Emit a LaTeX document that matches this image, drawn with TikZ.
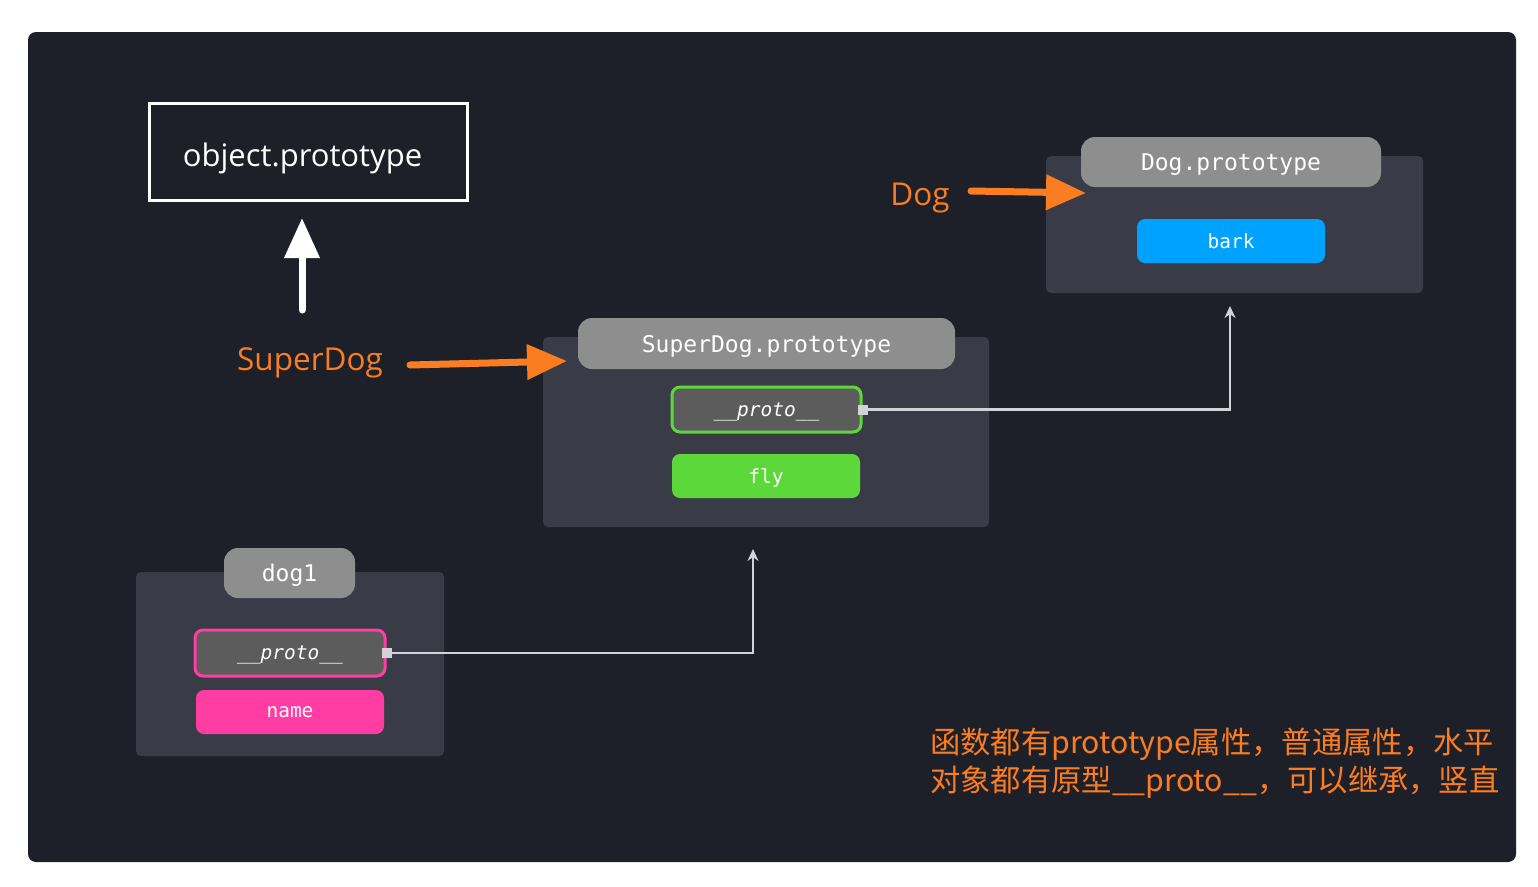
\documentclass[tikz,border=0pt]{standalone}
\usepackage{fontspec}
\setmainfont{Open Sans}
\newfontfamily\monofont{DejaVu Sans Mono}
\newfontfamily\cjk{Noto Sans CJK SC}
\usetikzlibrary{arrows.meta}
\definecolor{bgdark}{HTML}{1E2029}
\definecolor{panelgray}{HTML}{393C47}
\definecolor{headgray}{HTML}{8E8E8E}
\definecolor{protogray}{HTML}{5C5C5C}
\definecolor{jsorange}{HTML}{FA7D22}
\definecolor{barkblue}{HTML}{00A2FF}
\definecolor{flygreen}{HTML}{5CD83A}
\definecolor{namepink}{HTML}{FF3DA2}
\definecolor{linegray}{HTML}{D2D2D8}
\tikzset{
	panel/.style={fill=panelgray, rounded corners=5pt, inner sep=0pt},
	header/.style={fill=headgray, rounded corners=14pt, text=white, inner sep=0pt, text depth=0pt, minimum height=50pt, font=\monofont\fontsize{23}{27}\selectfont},
	field/.style={rounded corners=8pt, text=white, inner sep=0pt, text depth=0pt, minimum width=188pt, minimum height=44pt, font=\monofont\fontsize{19.5}{23}\selectfont},
	protofield/.style={field, fill=protogray, line width=3pt, minimum height=45pt, font=\monofont\itshape\fontsize{19.5}{23}\selectfont},
	fatarrow/.style={line width=7pt, line cap=round, -{Triangle[width=34pt,length=40pt]}},
	conn/.style={draw=linegray, line width=2.5pt, -{Stealth[width=11pt,length=12pt]}},
	portsq/.style={fill=linegray, minimum size=10pt, inner sep=0pt},
	orangetext/.style={text=jsorange, inner sep=0pt, text depth=0pt, font=\fontsize{31.5}{36}\selectfont}
}
\begin{document}
\begin{tikzpicture}[x=1pt, y=-1pt]
	\useasboundingbox (0,0) rectangle (1538,886);
	\fill[white] (0,0) rectangle (1538,886);
	\fill[bgdark, rounded corners=8pt] (28,32) rectangle (1516,862);

	% object.prototype
	\node[draw=white, line width=3pt, minimum width=318pt, minimum height=97pt] (objproto) at (308,152) {};
	\node[text=white, inner sep=0pt, text depth=0pt, font=\fontsize{31}{36}\selectfont] (objtext) at (302.5,155) {object.prototype};
	\coordinate (objtail) at (302,310);
	\coordinate (objtip) at (302,218);
	\draw[fatarrow, white] (objtail) -- (objtip);

	% Dog.prototype
	\node[panel, minimum width=377pt, minimum height=137pt] (dogbox) at (1234.5,224.5) {};
	\node[header, minimum width=300pt] (doghead) at (1231,162) {Dog.prototype};
	\node[field, fill=barkblue] (bark) at (1231,241) {bark};

	% SuperDog.prototype
	\node[panel, minimum width=446pt, minimum height=190pt] (sdbox) at (766,432) {};
	\node[header, minimum width=377pt, minimum height=51pt] (sdhead) at (766.5,343.5) {SuperDog.prototype};
	\node[protofield, draw=flygreen, minimum width=189pt] (sdproto) at (766.5,409.5) {\_\_proto\_\_};
	\node[field, fill=flygreen] (fly) at (766,476) {fly};

	% dog1
	\node[panel, minimum width=308pt, minimum height=184pt] (dogonebox) at (290,664) {};
	\node[header, minimum width=131pt] (dogonehead) at (289.5,573) {dog1};
	\node[protofield, draw=namepink, minimum width=190pt, minimum height=46pt] (dproto) at (290,653) {\_\_proto\_\_};
	\node[field, fill=namepink] (name) at (290,712) {name};

	% orange labels
	\node[orangetext] (sdlabel) at (310,359) {SuperDog};
	\node[orangetext] (doglabel) at (920,194) {Dog};
	\coordinate (sdtail) at (410,365);
	\coordinate (sdtip) at (567,361);
	\coordinate (dogtail) at (971,191);
	\coordinate (dogtip) at (1086,193);
	\draw[fatarrow, jsorange] (sdtail) -- (sdtip);
	\draw[fatarrow, jsorange] (dogtail) -- (dogtip);

	% proto links
	\coordinate (dogin) at (1230,306);
	\coordinate (sdin) at (753,549);
	\draw[conn] (sdproto.east) -| (dogin);
	\draw[conn] (dproto.east) -| (sdin);
	\node[portsq] (sdport) at (sdproto.east) {};
	\node[portsq] (dport) at (dproto.east) {};

	% note
	\node[anchor=west, align=left, text=jsorange, inner sep=0pt, font=\cjk\fontsize{30.3}{38}\selectfont] (note) at (930,763) {函数都有prototype属性，普通属性，水平\\对象都有原型\_\_proto\_\_，可以继承，竖直};
\end{tikzpicture}
\end{document}
